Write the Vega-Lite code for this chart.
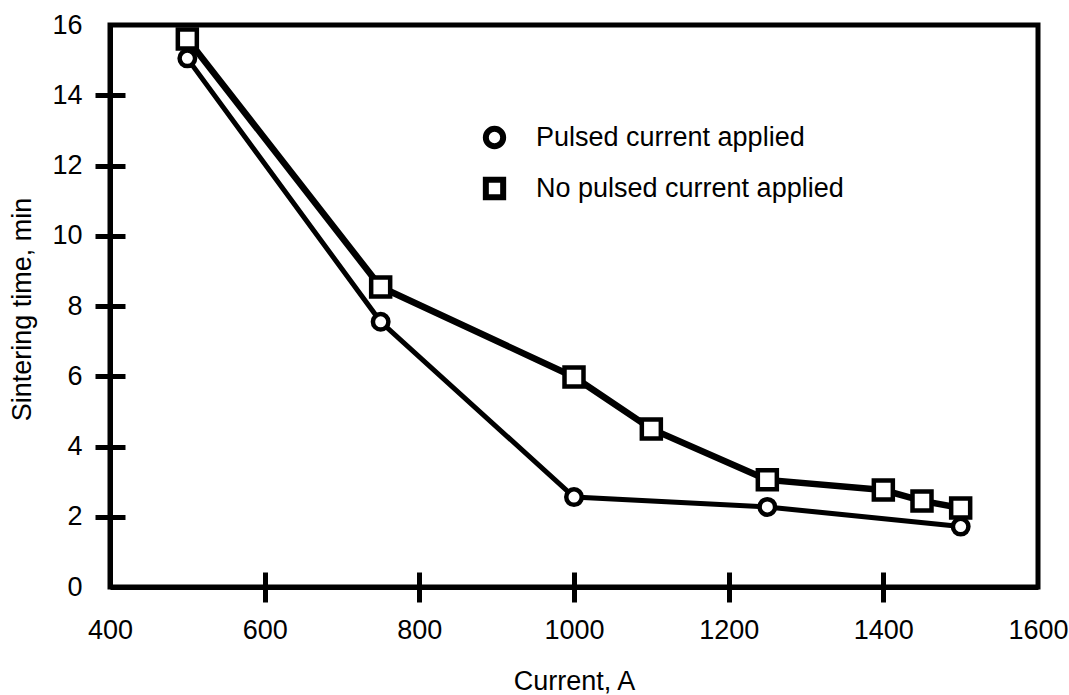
{
  "$schema": "https://vega.github.io/schema/vega-lite/v6.json",
  "width": 928,
  "height": 562,
  "autosize": {"type": "none"},
  "padding": {"left": 110, "top": 25, "right": 31, "bottom": 108},
  "background": "white",
  "config": {
    "font": "Liberation Sans",
    "view": {"stroke": "black", "strokeWidth": 5},
    "axis": {"grid": false}
  },
  "data": {
    "values": [
      {"series": "Pulsed current applied", "current": 500, "time": 15.05},
      {"series": "Pulsed current applied", "current": 750, "time": 7.55},
      {"series": "Pulsed current applied", "current": 1000, "time": 2.56},
      {"series": "Pulsed current applied", "current": 1250, "time": 2.28},
      {"series": "Pulsed current applied", "current": 1500, "time": 1.72},
      {"series": "No pulsed current applied", "current": 500, "time": 15.6},
      {"series": "No pulsed current applied", "current": 750, "time": 8.54},
      {"series": "No pulsed current applied", "current": 1000, "time": 5.98},
      {"series": "No pulsed current applied", "current": 1100, "time": 4.5},
      {"series": "No pulsed current applied", "current": 1250, "time": 3.05},
      {"series": "No pulsed current applied", "current": 1400, "time": 2.76},
      {"series": "No pulsed current applied", "current": 1450, "time": 2.45},
      {"series": "No pulsed current applied", "current": 1500, "time": 2.25}
    ]
  },
  "resolve": {"axis": {"x": "independent", "y": "independent"}},
  "layer": [
    {
      "transform": [{"filter": "datum.series == 'Pulsed current applied'"}],
      "mark": {"type": "line", "color": "black", "strokeWidth": 5},
      "encoding": {
        "x": {
          "field": "current", "type": "quantitative",
          "scale": {"domain": [400, 1600], "nice": false, "zero": false},
          "axis": {
            "orient": "bottom",
            "values": [400, 600, 800, 1000, 1200, 1400, 1600],
            "format": "d",
            "ticks": false, "tickSize": 0,
            "domain": true, "domainColor": "black", "domainWidth": 5,
            "labelFontSize": 27, "labelColor": "black", "labelPadding": 30,
            "labelFlush": false, "labelOverlap": false,
            "title": "Current, A", "titleFontSize": 27, "titleFontWeight": "normal", "titleColor": "black",
            "titleY": 102, "titleBaseline": "alphabetic", "titleAnchor": "middle"
          }
        },
        "y": {
          "field": "time", "type": "quantitative",
          "scale": {"domain": [0, 16], "nice": false},
          "axis": {
            "orient": "left",
            "values": [0, 2, 4, 6, 8, 10, 12, 14, 16],
            "ticks": false, "tickSize": 0,
            "domain": true, "domainColor": "black", "domainWidth": 5,
            "labelFontSize": 27, "labelColor": "black", "labelPadding": 28,
            "labelFlush": false, "labelOverlap": false,
            "title": "Sintering time, min", "titleFontSize": 27, "titleFontWeight": "normal", "titleColor": "black",
            "titleX": -88, "titleY": 284, "titleAngle": -90, "titleBaseline": "middle", "titleAlign": "center"
          }
        }
      }
    },
    {
      "transform": [{"filter": "datum.series == 'No pulsed current applied'"}],
      "mark": {"type": "line", "color": "black", "strokeWidth": 6.5},
      "encoding": {
        "x": {"field": "current", "type": "quantitative", "axis": null},
        "y": {"field": "time", "type": "quantitative", "axis": null}
      }
    },
    {
      "transform": [{"filter": "datum.series == 'Pulsed current applied'"}],
      "mark": {"type": "point", "filled": false, "color": "black", "fill": "white", "fillOpacity": 1, "strokeWidth": 4.5, "opacity": 1, "size": 240},
      "encoding": {
        "x": {
          "field": "current", "type": "quantitative",
          "axis": {
            "orient": "bottom", "offset": -15, "tickSize": 30, "tickWidth": 5, "tickColor": "black",
            "values": [600, 800, 1000, 1200, 1400],
            "domain": false, "labels": false, "title": null, "zindex": 1
          }
        },
        "y": {
          "field": "time", "type": "quantitative",
          "axis": {
            "orient": "left", "offset": -15, "tickSize": 30, "tickWidth": 5, "tickColor": "black",
            "values": [2, 4, 6, 8, 10, 12, 14],
            "domain": false, "labels": false, "title": null, "zindex": 1
          }
        },
        "shape": {
          "field": "series", "type": "nominal",
          "scale": {"domain": ["Pulsed current applied", "No pulsed current applied"], "range": ["circle", "square"]},
          "legend": {
            "title": null, "orient": "none", "legendX": 371, "legendY": 99,
            "padding": 0, "symbolSize": 300, "symbolStrokeWidth": 6,
            "labelFontSize": 27, "labelColor": "black", "labelOffset": 28, "labelLimit": 500,
            "rowPadding": 8
          }
        }
      }
    },
    {
      "transform": [{"filter": "datum.series == 'No pulsed current applied'"}],
      "mark": {"type": "point", "filled": false, "color": "black", "fill": "white", "fillOpacity": 1, "strokeWidth": 4.5, "opacity": 1, "size": 361},
      "encoding": {
        "x": {"field": "current", "type": "quantitative", "axis": null},
        "y": {"field": "time", "type": "quantitative", "axis": null},
        "shape": {"field": "series", "type": "nominal"}
      }
    }
  ]
}
